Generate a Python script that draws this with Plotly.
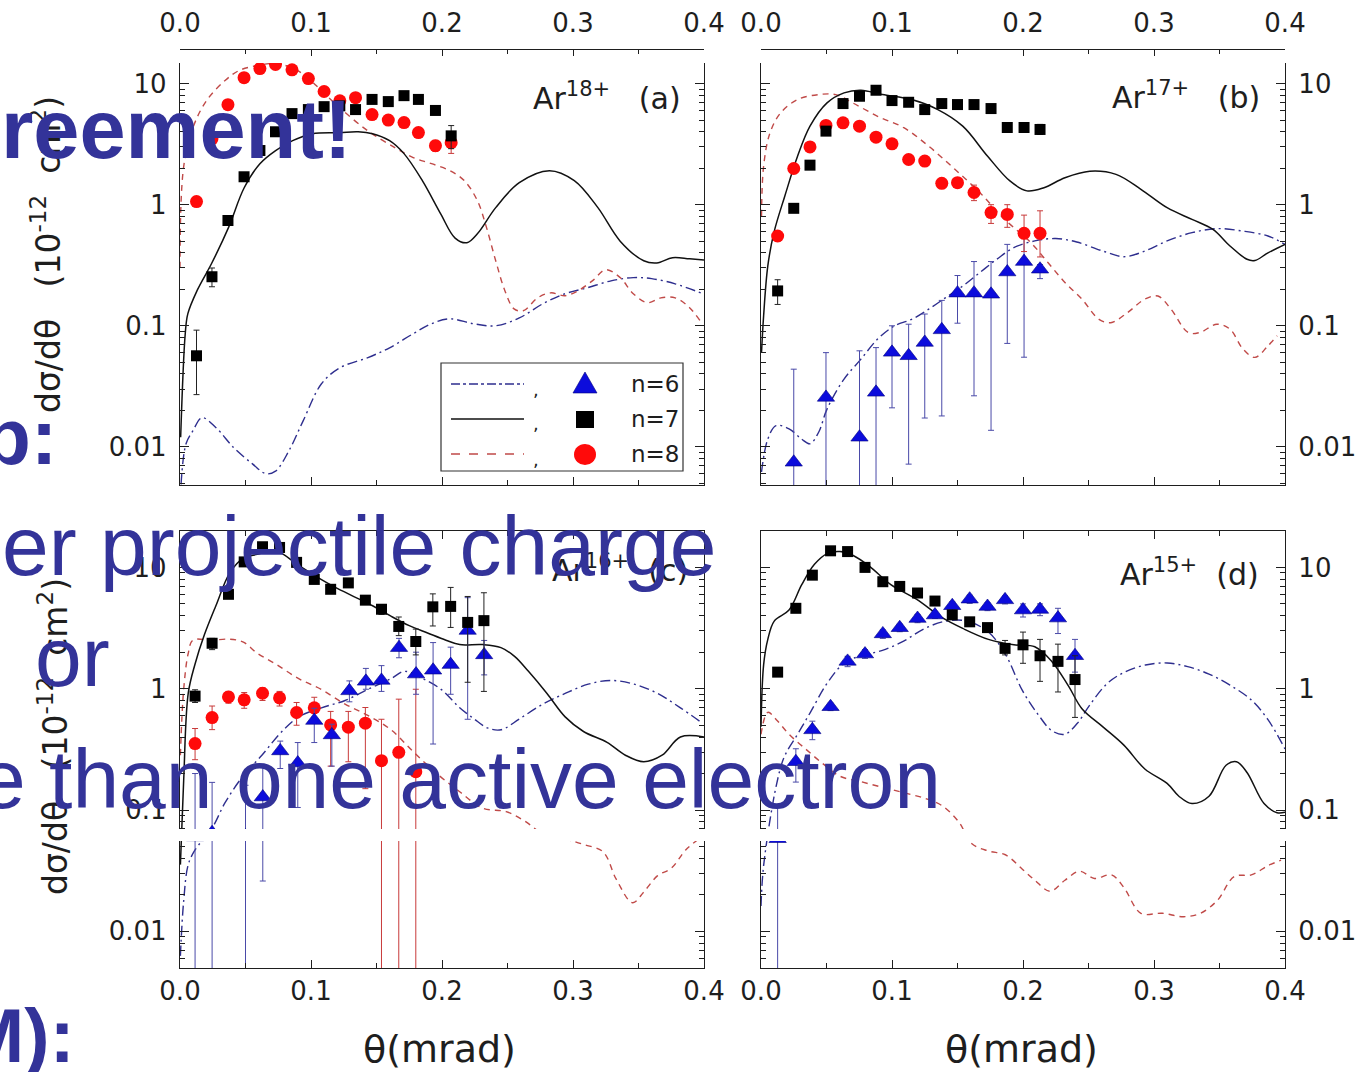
import plotly.graph_objects as go

W, H = 1365, 1072
FONT = "DejaVu Sans, Liberation Sans, sans-serif"
SLIDE_FONT = "Liberation Sans, Arial, sans-serif"
INK = "#1e1e1e"
BLUE_TXT = "#333399"

def PX(x):
    return x / W

def PY(y):
    return 1 - y / H

# ---------------- data ----------------
# ---- panel (a)  Ar18+ ----
a_exp_theta = [0.0126, 0.0244, 0.0366, 0.0489, 0.061, 0.0729, 0.0855, 0.098, 0.110,
               0.122, 0.134, 0.1466, 0.159, 0.171, 0.182, 0.195, 0.207]
a_n7_val = [0.0565, 0.254, 0.74, 1.70, 2.8, 4.0, 5.65, 6.1, 6.45, 6.55, 6.1, 7.4, 7.1, 7.95, 7.4, 6.0, 3.7]
a_n7_hi = [0.092, 0.30, 0.74, 1.70, 2.8, 4.0, 5.65, 6.1, 6.45, 6.55, 6.1, 7.4, 7.1, 7.95, 7.4, 6.0, 4.5]
a_n7_lo = [0.027, 0.21, 0.74, 1.70, 2.8, 4.0, 5.65, 6.1, 6.45, 6.55, 6.1, 7.4, 7.1, 7.95, 7.4, 6.0, 2.9]
a_n8_val = [1.06, 3.5, 6.7, 11.2, 13.3, 14.4, 13.0, 11.0, 8.6, 7.2, 7.65, 5.55, 5.0, 4.76, 3.94, 3.07, 3.25]
a_n8_hi = [1.06, 3.5, 6.7, 11.2, 13.3, 14.4, 13.0, 11.0, 8.6, 7.2, 7.65, 5.55, 5.0, 4.76, 3.94, 3.4, 3.9]
a_n8_lo = [1.06, 3.5, 6.7, 11.2, 13.3, 14.4, 13.0, 11.0, 8.6, 7.2, 7.65, 5.55, 5.0, 4.76, 3.94, 2.75, 2.65]

a_th7_theta = [0.0005, 0.004, 0.006, 0.013, 0.024, 0.037, 0.049, 0.061, 0.073, 0.086, 0.101, 0.122,
               0.136, 0.147, 0.160, 0.171, 0.185, 0.199, 0.210, 0.219, 0.227, 0.241, 0.259, 0.282,
               0.301, 0.319, 0.336, 0.354, 0.364, 0.376, 0.389, 0.400]
a_th7_val = [0.012, 0.086, 0.126, 0.195, 0.325, 0.646, 1.38, 2.18, 2.8, 3.38, 3.86, 3.94,
             4.0, 3.86, 3.38, 2.64, 1.58, 0.84, 0.53, 0.485, 0.575, 0.945, 1.52, 1.91,
             1.58, 0.945, 0.50, 0.344, 0.33, 0.365, 0.357, 0.35]
a_th8_theta = [0.0, 0.0027, 0.0099, 0.0203, 0.0344, 0.045, 0.0588, 0.0729, 0.087, 0.0974, 0.108,
               0.122, 0.143, 0.164, 0.178, 0.192, 0.206, 0.217, 0.227, 0.234, 0.241, 0.248, 0.255,
               0.262, 0.273, 0.283, 0.294, 0.304, 0.315, 0.325, 0.336, 0.346, 0.357, 0.367, 0.378,
               0.389, 0.397]
a_th8_val = [0.3, 2.02, 4.33, 7.24, 10.6, 12.8, 14.1, 14.6, 13.3, 11.2, 8.75,
             6.3, 4.1, 2.96, 2.45, 2.18, 1.91, 1.58, 1.08, 0.646, 0.344, 0.195, 0.138,
             0.133, 0.17, 0.187, 0.177, 0.195, 0.236, 0.29, 0.25, 0.184, 0.155, 0.17, 0.17,
             0.141, 0.11]
a_th6_theta = [0.0008, 0.0046, 0.0099, 0.0168, 0.0275, 0.0412, 0.0553, 0.0656, 0.0729, 0.0832,
               0.094, 0.108, 0.122, 0.143, 0.160, 0.178, 0.192, 0.206, 0.224, 0.241, 0.259,
               0.277, 0.294, 0.311, 0.329, 0.346, 0.360, 0.378, 0.399]
a_th6_val = [0.0049, 0.0106, 0.0136, 0.0174, 0.0144, 0.0098, 0.00724, 0.006, 0.0063, 0.0093,
             0.0164, 0.0332, 0.045, 0.0544, 0.0658, 0.086, 0.104, 0.114, 0.104, 0.1, 0.116,
             0.152, 0.184, 0.206, 0.235, 0.25, 0.245, 0.222, 0.184]

# ---- panel (b)  Ar17+ ----
b_exp_theta = [0.0127, 0.025, 0.0374, 0.0496, 0.0626, 0.0752, 0.0878, 0.100, 0.1127, 0.125,
               0.138, 0.150, 0.1626, 0.1756, 0.188, 0.2008, 0.213]
b_n7_val = [0.194, 0.933, 2.12, 4.05, 6.84, 7.86, 8.81, 7.24, 7.01, 6.1, 6.84, 6.71, 6.71, 6.22, 4.34, 4.34, 4.18]
b_n7_hi = [0.24, 0.933, 2.12, 4.05, 6.84, 7.86, 8.81, 7.24, 7.01, 6.1, 6.84, 6.71, 6.71, 6.22, 4.6, 4.6, 4.6]
b_n7_lo = [0.15, 0.933, 2.12, 4.05, 6.84, 7.86, 8.81, 7.24, 7.01, 6.1, 6.84, 6.71, 6.71, 6.22, 4.05, 4.0, 3.8]
b_n8_val = [0.551, 1.99, 3.0, 4.51, 4.74, 4.45, 3.61, 3.18, 2.36, 2.29, 1.50, 1.52, 1.26, 0.86, 0.83, 0.58, 0.58]
b_n8_hi = [0.6, 1.99, 3.0, 4.51, 4.74, 4.45, 3.61, 3.18, 2.36, 2.29, 1.65, 1.65, 1.45, 1.0, 1.0, 0.82, 0.89]
b_n8_lo = [0.5, 1.99, 3.0, 4.51, 4.74, 4.45, 3.61, 3.18, 2.36, 2.29, 1.36, 1.40, 1.08, 0.7, 0.65, 0.41, 0.37]
b_n6_theta = [0.025, 0.0496, 0.0752, 0.0878, 0.100, 0.1127, 0.125, 0.138, 0.150, 0.1626,
              0.1756, 0.188, 0.2008, 0.213]
b_n6_val = [0.00746, 0.0256, 0.012, 0.0282, 0.0603, 0.0565, 0.0728, 0.0925, 0.186, 0.186,
            0.182, 0.278, 0.339, 0.293]
b_n6_hi = [0.0438, 0.060, 0.0621, 0.066, 0.10, 0.103, 0.125, 0.162, 0.26, 0.339,
           0.339, 0.47, 0.59, 0.32]
b_n6_lo = [0.0001, 0.0001, 0.0001, 0.0001, 0.021, 0.0072, 0.0173, 0.018, 0.105, 0.0264,
           0.0137, 0.0715, 0.055, 0.245]

b_th7_theta = [0.0004, 0.002, 0.0052, 0.0099, 0.0182, 0.0279, 0.0374, 0.0504, 0.0634, 0.0763,
               0.0927, 0.115, 0.135, 0.154, 0.173, 0.19, 0.203, 0.216, 0.232, 0.251, 0.271,
               0.290, 0.31, 0.329, 0.345, 0.358, 0.371, 0.377, 0.387, 0.4]
b_th7_val = [0.06, 0.121, 0.312, 0.59, 1.18, 2.51, 4.45, 6.93, 8.38, 8.81,
             8.11, 7.38, 6.1, 4.45, 2.51, 1.57, 1.30, 1.38, 1.67, 1.89, 1.78,
             1.34, 0.944, 0.756, 0.625, 0.456, 0.354, 0.346, 0.40, 0.47]
b_th8_theta = [0.0004, 0.002, 0.0069, 0.015, 0.0279, 0.044, 0.057, 0.070, 0.089, 0.109, 0.128,
               0.148, 0.167, 0.186, 0.206, 0.219, 0.232, 0.245, 0.258, 0.267, 0.28, 0.293,
               0.303, 0.313, 0.326, 0.335, 0.348, 0.358, 0.368, 0.377, 0.387, 0.394]
b_th8_val = [0.805, 2.08, 3.93, 5.73, 7.38, 8.11, 8.11, 6.93, 5.37, 4.32, 3.04,
             1.96, 1.26, 0.756, 0.486, 0.333, 0.228, 0.166, 0.113, 0.106, 0.129, 0.166,
             0.176, 0.137, 0.088, 0.088, 0.103, 0.0937, 0.0641, 0.0548, 0.0683, 0.0826]
b_th6_theta = [0.0004, 0.0052, 0.0115, 0.0214, 0.031, 0.0374, 0.044, 0.0504, 0.0634, 0.0763,
               0.089, 0.102, 0.115, 0.128, 0.141, 0.154, 0.167, 0.18, 0.193, 0.209, 0.225,
               0.241, 0.261, 0.277, 0.293, 0.310, 0.329, 0.348, 0.368, 0.387, 0.4]
b_th6_val = [0.0062, 0.0116, 0.015, 0.0141, 0.0116, 0.0106, 0.0132, 0.0205, 0.0363, 0.053,
             0.0776, 0.1, 0.113, 0.137, 0.171, 0.213, 0.275, 0.354, 0.442, 0.502, 0.525,
             0.492, 0.414, 0.372, 0.414, 0.502, 0.587, 0.634, 0.605, 0.551, 0.47]

# ---- panel (c)  Ar16+ ----
c_exp_theta = [0.0115, 0.0245, 0.037, 0.049, 0.063, 0.076, 0.089, 0.1025, 0.115, 0.1285, 0.1415,
               0.1538, 0.167, 0.180, 0.193, 0.2066, 0.2196, 0.232]
c_n7_val = [0.869, 2.37, 6.0, 11.1, 14.8, 14.6, 11.0, 7.96, 6.6, 7.45, 5.37, 4.52, 3.26, 2.45,
            4.73, 4.77, 3.52, 3.64]
c_n7_hi = [0.98, 2.6, 6.0, 11.1, 14.8, 14.6, 11.0, 7.96, 6.6, 7.45, 5.8, 4.9, 3.9, 3.1,
           6.05, 6.84, 5.76, 6.18]
c_n7_lo = [0.77, 2.1, 6.0, 11.1, 14.8, 14.6, 11.0, 7.96, 6.6, 7.45, 4.95, 4.1, 2.74, 1.9,
           3.29, 3.2, 1.13, 0.95]
c_n8_theta = [0.0115, 0.0245, 0.037, 0.049, 0.063, 0.076, 0.089, 0.1025, 0.115, 0.1285,
              0.1415, 0.1538, 0.167, 0.180]
c_n8_val = [0.353, 0.578, 0.855, 0.81, 0.918, 0.839, 0.637, 0.696, 0.503, 0.482,
            0.52, 0.255, 0.299, 0.207]
c_n8_hi = [0.47, 0.72, 0.95, 0.93, 1.02, 0.95, 0.77, 0.85, 0.65, 0.65,
           0.70, 0.56, 0.82, 0.99]
c_n8_lo = [0.26, 0.46, 0.76, 0.69, 0.80, 0.72, 0.50, 0.54, 0.23, 0.25,
           0.15, 0.0001, 0.0001, 0.0001]
c_n6_theta = [0.0115, 0.0245, 0.050, 0.0632, 0.0765, 0.0899, 0.1025, 0.1159, 0.1293, 0.1419,
              0.1538, 0.1672, 0.1802, 0.1932, 0.2066, 0.2196, 0.2322]
c_n6_val = [0.06, 0.065, 0.061, 0.128, 0.307, 0.244, 0.547, 0.416, 0.96, 1.15,
            1.17, 2.18, 1.32, 1.42, 1.58, 3.02, 1.9]
c_n6_hi = [0.2, 0.169, 0.16, 0.23, 0.37, 0.36, 0.69, 0.51, 1.16, 1.47,
           1.55, 2.6, 2.0, 2.4, 2.2, 5.63, 2.5]
c_n6_lo = [0.0001, 0.0001, 0.0001, 0.026, 0.22, 0.105, 0.36, 0.23, 0.78, 0.99,
           0.95, 1.8, 0.9, 0.35, 0.9, 0.56, 1.3]

c_th7_theta = [0.0003, 0.0028, 0.0063, 0.0115, 0.0186, 0.0274, 0.038, 0.0484, 0.059, 0.073, 0.09,
               0.1047, 0.1186, 0.1327, 0.147, 0.1607, 0.175, 0.189, 0.203, 0.2135, 0.231, 0.245,
               0.2556, 0.266, 0.28, 0.294, 0.308, 0.326, 0.34, 0.354, 0.368, 0.382, 0.4]
c_th7_val = [0.0355, 0.175, 0.918, 1.6, 2.78, 4.83, 9.0, 11.9, 12.8, 13.7, 10.5,
             8.3, 6.84, 5.75, 4.83, 3.98, 3.31, 2.88, 2.51, 2.31, 2.31, 2.18,
             1.84, 1.39, 0.918, 0.586, 0.444, 0.361, 0.283, 0.25, 0.283, 0.40, 0.40]
c_th8_theta = [0.0003, 0.0028, 0.0063, 0.0098, 0.0239, 0.038, 0.0484, 0.059, 0.073, 0.0906, 0.108,
               0.126, 0.143, 0.161, 0.178, 0.196, 0.2135, 0.231, 0.249, 0.263, 0.277, 0.294,
               0.308, 0.323, 0.333, 0.3455, 0.354, 0.3646, 0.375, 0.386, 0.396]
c_th8_val = [0.283, 0.984, 1.96, 2.51, 2.51, 2.56, 2.42, 1.96, 1.6, 1.21, 0.984,
             0.746, 0.606, 0.459, 0.303, 0.2, 0.1416, 0.1037, 0.097, 0.0813, 0.0639, 0.0578,
             0.052, 0.0452, 0.0269, 0.0172, 0.0211, 0.0288, 0.0331, 0.0469, 0.0578]
c_th6_theta = [0.0003, 0.0028, 0.0063, 0.0115, 0.0245, 0.0344, 0.048, 0.0625, 0.0765, 0.0906,
               0.108, 0.126, 0.143, 0.161, 0.1714, 0.1855, 0.1995, 0.2135, 0.2243, 0.2347,
               0.2452, 0.2593, 0.277, 0.2944, 0.3116, 0.329, 0.3467, 0.3643, 0.382, 0.398]
c_th6_val = [0.00628, 0.0178, 0.0355, 0.0469, 0.0711, 0.115, 0.19, 0.283, 0.429, 0.586,
             0.696, 0.8, 0.984, 1.21, 1.39, 1.21, 0.984, 0.696, 0.566, 0.475,
             0.459, 0.566, 0.746, 0.918, 1.09, 1.17, 1.09, 0.918, 0.696, 0.527]

# ---- panel (d)  Ar15+ ----
d_exp_theta = [0.0127, 0.0266, 0.0392, 0.0531, 0.0661, 0.0794, 0.093, 0.1059, 0.1195, 0.1328,
               0.146, 0.1593, 0.1729, 0.1863, 0.200, 0.213, 0.2267, 0.2397]
d_n7_val = [1.37, 4.6, 8.63, 13.7, 13.5, 10.0, 7.62, 6.97, 6.15, 5.28, 4.06, 3.56, 3.19, 2.15,
            2.30, 1.87, 1.68, 1.19]
d_n7_hi = [1.37, 4.6, 8.63, 13.7, 13.5, 10.0, 7.62, 6.97, 6.15, 5.28, 4.06, 3.56, 3.45, 2.5,
           2.93, 2.55, 2.33, 1.87]
d_n7_lo = [1.37, 4.6, 8.63, 13.7, 13.5, 10.0, 7.62, 6.97, 6.15, 5.28, 4.06, 3.56, 2.95, 1.9,
           1.62, 1.15, 0.94, 0.58]
d_n6_val = [0.058, 0.25, 0.458, 0.71, 1.68, 1.93, 2.83, 3.18, 3.79, 4.05, 4.83, 5.47, 4.76, 5.4,
            4.45, 4.5, 3.82, 1.87]
d_n6_hi = [0.105, 0.32, 0.54, 0.76, 1.85, 2.1, 3.05, 3.4, 4.1, 4.3, 5.2, 5.9, 5.1, 5.8,
           5.0, 5.0, 4.6, 2.55]
d_n6_lo = [0.0001, 0.17, 0.38, 0.66, 1.52, 1.78, 2.6, 2.95, 3.5, 3.8, 4.45, 5.05, 4.4, 5.0,
           3.9, 4.0, 2.85, 1.37]

d_th7_theta = [0.0, 0.002, 0.0052, 0.0101, 0.0214, 0.0311, 0.0408, 0.0505, 0.0603, 0.07, 0.0829,
               0.0991, 0.1186, 0.138, 0.154, 0.1736, 0.193, 0.209, 0.222, 0.235, 0.245, 0.261,
               0.277, 0.293, 0.31, 0.319, 0.329, 0.342, 0.355, 0.363, 0.371, 0.384, 0.394, 0.4]
d_th7_val = [0.485, 1.57, 2.55, 3.61, 4.45, 7.2, 10.6, 13.0, 13.5, 12.6, 10.2,
             7.2, 5.47, 3.87, 3.14, 2.55, 2.30, 2.22, 1.68, 1.04, 0.684, 0.485,
             0.343, 0.218, 0.166, 0.13, 0.113, 0.13, 0.234, 0.25, 0.204, 0.113, 0.095, 0.096]
d_th6_theta = [0.0, 0.002, 0.0117, 0.018, 0.0279, 0.0377, 0.0505, 0.0635, 0.0765, 0.0927, 0.1089,
               0.125, 0.1412, 0.1573, 0.1736, 0.1865, 0.1995, 0.2124, 0.222, 0.2318, 0.2415,
               0.251, 0.2645, 0.2775, 0.2935, 0.31, 0.3257, 0.342, 0.358, 0.374, 0.387, 0.4]
d_th6_val = [0.0162, 0.0348, 0.16, 0.278, 0.421, 0.639, 1.11, 1.63, 1.87, 2.07, 2.47,
             3.14, 3.61, 3.61, 2.93, 1.93, 0.968, 0.595, 0.451, 0.421, 0.519,
             0.735, 1.11, 1.37, 1.57, 1.63, 1.52, 1.32, 1.07, 0.813, 0.556, 0.319]
d_th8_theta = [0.0, 0.0052, 0.0117, 0.0214, 0.034, 0.047, 0.0603, 0.0765, 0.0927, 0.1089, 0.125,
               0.138, 0.151, 0.161, 0.1736, 0.1865, 0.1995, 0.209, 0.2206, 0.232, 0.2432, 0.2545,
               0.2675, 0.277, 0.29, 0.3064, 0.3225, 0.3354, 0.3484, 0.3613, 0.3743, 0.387, 0.397]
d_th8_val = [0.421, 0.639, 0.556, 0.421, 0.319, 0.242, 0.19, 0.171, 0.154, 0.139, 0.125,
             0.109, 0.0798, 0.0527, 0.046, 0.0428, 0.0325, 0.0264, 0.0214, 0.0264, 0.0313, 0.0273,
             0.0292, 0.023, 0.0141, 0.0141, 0.0132, 0.0141, 0.018, 0.0283, 0.0292, 0.0348, 0.0386]

legend_labels = ["n=6", "n=7", "n=8"]
panel_labels = ["Ar<sup>18+</sup>   (a)", "Ar<sup>17+</sup>   (b)", "Ar<sup>16+</sup>  (c)", "Ar<sup>15+</sup>  (d)"]
x_tick_vals = [0.0, 0.1, 0.2, 0.3, 0.4]
x_tick_text = ["0.0", "0.1", "0.2", "0.3", "0.4"]
y_tick_vals = [0.01, 0.1, 1, 10]
y_tick_text = ["0.01", "0.1", "1", "10"]

# ---------------- styles ----------------
C6_LINE = "#2e2e8e"
C8_LINE = "#c04a48"
C6_MK = "#0c0cdc"
C8_MK = "#ff0a0a"

fig = go.Figure()

def err(vals, hi, lo, color):
    return dict(type="data", symmetric=False,
                array=[h - v for v, h in zip(vals, hi)],
                arrayminus=[v - l for v, l in zip(vals, lo)],
                color=color, thickness=1, width=3)

def theory(xs, ys, kind, ax):
    xa, ya = ax
    if kind == 6:
        line = dict(color=C6_LINE, width=1.4, dash="10px,4px,2px,4px")
    elif kind == 7:
        line = dict(color="#111111", width=1.5)
    else:
        line = dict(color=C8_LINE, width=1.4, dash="6px,5px")
    fig.add_trace(go.Scatter(x=xs, y=ys, mode="lines", line=line, line_shape="spline",
                             xaxis=xa, yaxis=ya, showlegend=False, hoverinfo="skip"))

def exp(xs, ys, hi, lo, kind, ax):
    xa, ya = ax
    if kind == 6:
        mk = dict(symbol="triangle-up", size=15, color=C6_MK, line=dict(color="#000080", width=0.6))
        ec = "#4a4aa8"
    elif kind == 7:
        mk = dict(symbol="square", size=11, color="#000000")
        ec = "#222222"
    else:
        mk = dict(symbol="circle", size=13, color=C8_MK)
        ec = "#c83a3a"
    fig.add_trace(go.Scatter(x=xs, y=ys, mode="markers", marker=mk,
                             error_y=err(ys, hi, lo, ec),
                             xaxis=xa, yaxis=ya, showlegend=False, hoverinfo="skip"))

A = ("x", "y")
B = ("x2", "y2")
Cc = ("x3", "y3")
D = ("x4", "y4")

# panel a
theory(a_th6_theta, a_th6_val, 6, A)
theory(a_th8_theta, a_th8_val, 8, A)
theory(a_th7_theta, a_th7_val, 7, A)
exp(a_exp_theta, a_n8_val, a_n8_hi, a_n8_lo, 8, A)
exp(a_exp_theta, a_n7_val, a_n7_hi, a_n7_lo, 7, A)
# panel b
theory(b_th6_theta, b_th6_val, 6, B)
theory(b_th8_theta, b_th8_val, 8, B)
theory(b_th7_theta, b_th7_val, 7, B)
exp(b_n6_theta, b_n6_val, b_n6_hi, b_n6_lo, 6, B)
exp(b_exp_theta, b_n8_val, b_n8_hi, b_n8_lo, 8, B)
exp(b_exp_theta, b_n7_val, b_n7_hi, b_n7_lo, 7, B)
# panel c
theory(c_th6_theta, c_th6_val, 6, Cc)
theory(c_th8_theta, c_th8_val, 8, Cc)
theory(c_th7_theta, c_th7_val, 7, Cc)
exp(c_n8_theta, c_n8_val, c_n8_hi, c_n8_lo, 8, Cc)
exp(c_n6_theta, c_n6_val, c_n6_hi, c_n6_lo, 6, Cc)
exp(c_exp_theta, c_n7_val, c_n7_hi, c_n7_lo, 7, Cc)
# panel d
theory(d_th6_theta, d_th6_val, 6, D)
theory(d_th8_theta, d_th8_val, 8, D)
theory(d_th7_theta, d_th7_val, 7, D)
exp(d_exp_theta, d_n6_val, d_n6_hi, d_n6_lo, 6, D)
exp(d_exp_theta, d_n7_val, d_n7_hi, d_n7_lo, 7, D)

# empty traces so the floating top axes of (a) and (b) get drawn
fig.add_trace(go.Scatter(x=[None], y=[None], xaxis="x5", yaxis="y", mode="markers",
                         showlegend=False, hoverinfo="skip"))
fig.add_trace(go.Scatter(x=[None], y=[None], xaxis="x6", yaxis="y2", mode="markers",
                         showlegend=False, hoverinfo="skip"))

# ---------------- axes ----------------
minor_y = [k * 10 ** e for e in range(-3, 2) for k in range(2, 10)]
minor_x = [0.05, 0.15, 0.25, 0.35]
tickfont = dict(family=FONT, size=26, color=INK)

def xax(dom, anchor, labels, mirror):
    return dict(domain=dom, anchor=anchor, range=[0, 0.4], showline=True, linecolor=INK,
                linewidth=1.3, mirror=mirror, ticks="inside", ticklen=8, tickwidth=1.2,
                tickcolor=INK, tickmode="array", tickvals=x_tick_vals, ticktext=x_tick_text,
                showticklabels=labels, tickfont=tickfont, ticklabelstandoff=0,
                minor=dict(tickmode="array", tickvals=minor_x, ticks="inside", ticklen=5,
                           tickcolor=INK, tickwidth=1),
                showgrid=False, zeroline=False, fixedrange=True, automargin=False)

def topax(dom, over):
    return dict(domain=dom, overlaying=over, anchor="free", position=PY(49), side="top",
                range=[0, 0.4], showline=True, linecolor=INK, linewidth=1.3, ticks="inside",
                ticklen=6, tickwidth=1.2, tickcolor=INK, tickmode="array",
                tickvals=x_tick_vals, ticktext=x_tick_text, tickfont=tickfont,
                ticklabelstandoff=6,
                minor=dict(tickmode="array", tickvals=minor_x, ticks="inside", ticklen=4,
                           tickcolor=INK, tickwidth=1),
                showgrid=False, zeroline=False, fixedrange=True, automargin=False)

def yax(dom, anchor, rng, side):
    return dict(type="log", domain=dom, anchor=anchor, range=rng, side=side, showline=True,
                linecolor=INK, linewidth=1.3, mirror="ticks", ticks="inside", ticklen=9,
                tickwidth=1.2, tickcolor=INK, tickmode="array", tickvals=y_tick_vals,
                ticktext=y_tick_text, tickfont=tickfont, ticklabelstandoff=7,
                minor=dict(tickmode="array", tickvals=minor_y, ticks="inside", ticklen=5,
                           tickcolor=INK, tickwidth=1),
                showgrid=False, zeroline=False, fixedrange=True, automargin=False)

XL = [PX(180), PX(704)]
XR = [PX(761), PX(1285)]
YT = [PY(485), PY(63)]
YB = [PY(968), PY(531)]
RT = [-2.315, 1.17]
RB = [-2.302, 1.30]

fig.update_layout(
    width=W, height=H, autosize=False,
    margin=dict(l=0, r=0, t=0, b=0, pad=0, autoexpand=False),
    paper_bgcolor="white", plot_bgcolor="white",
    showlegend=False,
    font=dict(family=FONT, color=INK),
    xaxis=xax(XL, "y", False, False),
    xaxis2=xax(XR, "y2", False, False),
    xaxis3=xax(XL, "y3", True, "ticks"),
    xaxis4=xax(XR, "y4", True, "ticks"),
    xaxis5=topax(XL, "x"),
    xaxis6=topax(XR, "x2"),
    yaxis=yax(YT, "x", RT, "left"),
    yaxis2=yax(YT, "x2", RT, "right"),
    yaxis3=yax(YB, "x3", RB, "left"),
    yaxis4=yax(YB, "x4", RB, "right"),
)

# ---------------- shapes: legend + white strip ----------------
shapes = []
shapes.append(dict(type="rect", xref="paper", yref="paper", x0=PX(441), x1=PX(683),
                   y0=PY(471), y1=PY(363), line=dict(color="#333", width=1.2),
                   fillcolor="white", layer="above"))
rows = [384, 419, 454]
line_styles = [dict(color=C6_LINE, width=1.4, dash="dashdot"),
               dict(color="#111", width=1.5),
               dict(color=C8_LINE, width=1.4, dash="dash")]
for yy, ls in zip(rows, line_styles):
    shapes.append(dict(type="line", xref="paper", yref="paper", x0=PX(451), x1=PX(524),
                       y0=PY(yy), y1=PY(yy), line=ls, layer="above"))
shapes.append(dict(type="path", xref="paper", yref="paper",
                   path="M %f %f L %f %f L %f %f Z" % (PX(573), PY(393), PX(597), PY(393), PX(585), PY(372)),
                   fillcolor=C6_MK, line=dict(color="#000080", width=0.6), layer="above"))
shapes.append(dict(type="rect", xref="paper", yref="paper", x0=PX(576), x1=PX(594),
                   y0=PY(428), y1=PY(411), fillcolor="#000", line=dict(width=0), layer="above"))
shapes.append(dict(type="circle", xref="paper", yref="paper", x0=PX(574), x1=PX(596),
                   y0=PY(465), y1=PY(444), fillcolor=C8_MK, line=dict(width=0), layer="above"))
# white strip crossing the lower panels
shapes.append(dict(type="rect", xref="paper", yref="paper", x0=0, x1=1, y0=PY(841), y1=PY(829),
                   fillcolor="white", line=dict(width=0), layer="above"))
fig.update_layout(shapes=shapes)

# ---------------- annotations ----------------
ann = []

def text(x, y, s, size, xanchor="center", color=INK, angle=0, bold=False, family=FONT):
    ann.append(dict(x=PX(x), y=PY(y), xref="paper", yref="paper", text=("<b>%s</b>" % s) if bold else s,
                    showarrow=False, xanchor=xanchor, yanchor="middle", textangle=angle,
                    font=dict(family=family, size=size, color=color)))

for lab, yy in zip(legend_labels, rows):
    text(629, yy, lab, 23, "left")
    text(536, yy + 5, ",", 18, "center")

text(683, 96, panel_labels[0], 30, "right")
text(1262, 95, panel_labels[1], 30, "right")
text(690, 568, panel_labels[2], 30, "right")
text(1261, 572, panel_labels[3], 30, "right")

ylab = "dσ/dθ   (10<sup>-12</sup>  cm<sup>2</sup>)"
text(46, 255, ylab, 33, "center", angle=-90)
text(53, 737, ylab, 33, "center", angle=-90)
text(439, 1049, "θ(mrad)", 38)
text(1021, 1049, "θ(mrad)", 38)

# slide overlay text
text(354, 129, "reement!", 83, "right", BLUE_TXT, bold=True, family=SLIDE_FONT)
text(60, 436, "p:", 80, "right", BLUE_TXT, bold=True, family=SLIDE_FONT)
text(718, 546, "er projectile charge", 84, "right", BLUE_TXT, family=SLIDE_FONT)
text(112, 657, "or", 84, "right", BLUE_TXT, family=SLIDE_FONT)
text(943, 779, "e than one active electron", 84, "right", BLUE_TXT, family=SLIDE_FONT)
text(77, 1035, "M):", 76, "right", BLUE_TXT, bold=True, family=SLIDE_FONT)

fig.update_layout(annotations=ann)

fig.write_html("out.html")
